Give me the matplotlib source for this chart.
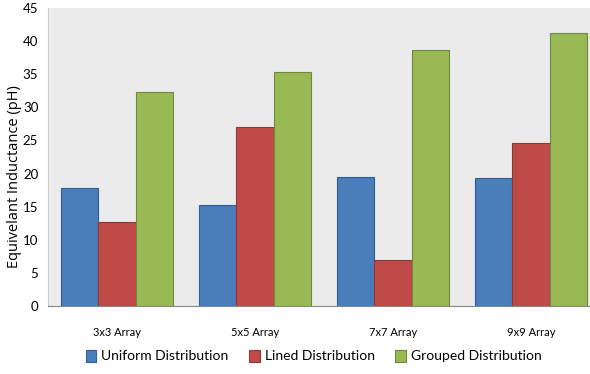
import matplotlib
matplotlib.use("Agg")
import matplotlib.pyplot as plt
import numpy as np

categories = ["3x3 Array", "5x5 Array", "7x7 Array", "9x9 Array"]
uniform = [17.8, 15.3, 19.5, 19.3]
lined = [12.7, 27.0, 7.0, 24.6]
grouped = [32.3, 35.3, 38.7, 41.2]
series_names = ["Uniform Distribution", "Lined Distribution", "Grouped Distribution"]
yticks = [0, 5, 10, 15, 20, 25, 30, 35, 40, 45]

colors = ["#4a7ebb", "#be4b48", "#98b954"]
edges = ["#2f5f96", "#8c3836", "#71893f"]

fig = plt.figure(figsize=(5.9, 3.74), dpi=100)
ax = fig.add_axes([48/590, 68/374, 552/590, 298/374])
ax.set_facecolor("#ebebeb")

x = np.arange(len(categories))
w = 0.27
for i, (vals, name) in enumerate(zip([uniform, lined, grouped], series_names)):
    ax.bar(x + (i - 1) * w, vals, width=w, color=colors[i], edgecolor=edges[i],
           linewidth=0.8, label=name, zorder=3)

ax.set_xlim(-0.5, 3.5)
ax.set_ylim(0, 45)
ax.set_yticks(yticks)
ax.set_xticks(x)
ax.set_xticklabels(categories, fontsize=8, family="Lato")
ax.tick_params(axis="x", length=0, pad=15)
ax.tick_params(axis="y", length=0, pad=7)
for lab in ax.get_yticklabels():
    lab.set_family("Lato")
    lab.set_fontsize(9.5)
for s in ["top", "right"]:
    ax.spines[s].set_visible(False)
ax.spines["bottom"].set_color("#888888")
ax.spines["left"].set_color("#cccccc")
ax.set_ylabel("Equivelant Inductance (pH)", fontsize=10.5, family="Open Sans")
ax.yaxis.set_label_coords(-0.048, 0.433)

leg = fig.legend(loc="center left", bbox_to_anchor=(86/590, 18/374), ncol=3, frameon=False,
                 borderpad=0, borderaxespad=0,
                 handlelength=0.75, handleheight=0.95, handletextpad=0.35,
                 columnspacing=1.5, prop={"family": "Lato", "size": 10})
fig.savefig("out.png", dpi=100)
